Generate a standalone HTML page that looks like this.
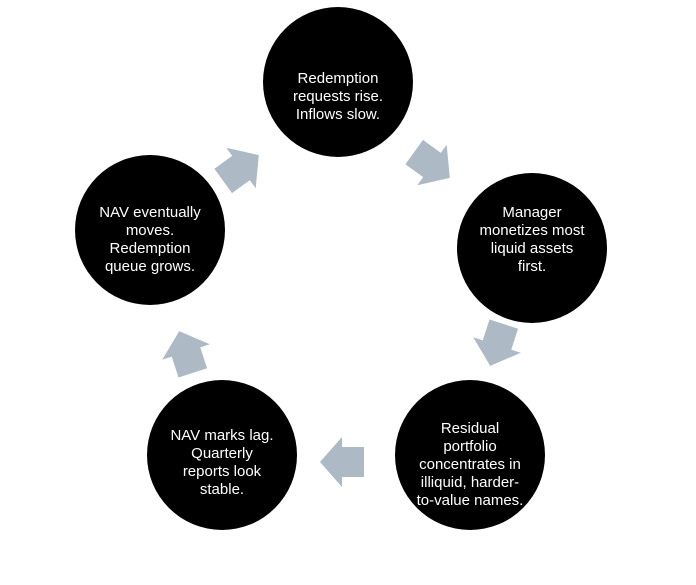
<!DOCTYPE html>
<html><head><meta charset="utf-8"><style>
body{margin:0;background:#fff;width:696px;height:580px;overflow:hidden}
svg text{font-family:"Liberation Sans",sans-serif;font-size:15px;fill:#fff;text-anchor:middle}
</style></head><body>
<svg width="696" height="580" viewBox="0 0 696 580">
<defs><polygon id="a" points="-22,-15 0,-15 0,-25 22,0 0,25 0,15 -22,15" fill="#adb9c5"/></defs>
<circle cx="338" cy="82" r="75"/>
<circle cx="532" cy="248" r="75"/>
<circle cx="470" cy="455" r="75"/>
<circle cx="222" cy="455" r="75"/>
<circle cx="150" cy="230" r="75"/>
<use href="#a" transform="translate(241,168) rotate(-36)"/>
<use href="#a" transform="translate(432,165) rotate(36)"/>
<use href="#a" transform="translate(497,345) rotate(108)"/>
<use href="#a" transform="translate(342,462) rotate(180)"/>
<use href="#a" transform="translate(186,352) rotate(252)"/>
<text x="338" y="83">Redemption</text>
<text x="338" y="101">requests rise.</text>
<text x="338" y="119">Inflows slow.</text>
<text x="532" y="217">Manager</text>
<text x="532" y="235">monetizes most</text>
<text x="532" y="253">liquid assets</text>
<text x="532" y="271">first.</text>
<text x="470" y="433">Residual</text>
<text x="470" y="451">portfolio</text>
<text x="470" y="469">concentrates in</text>
<text x="470" y="487">illiquid, harder-</text>
<text x="470" y="505">to-value names.</text>
<text x="222" y="440">NAV marks lag.</text>
<text x="222" y="458">Quarterly</text>
<text x="222" y="476">reports look</text>
<text x="222" y="494">stable.</text>
<text x="150" y="217">NAV eventually</text>
<text x="150" y="235">moves.</text>
<text x="150" y="253">Redemption</text>
<text x="150" y="271">queue grows.</text>
</svg>
</body></html>
